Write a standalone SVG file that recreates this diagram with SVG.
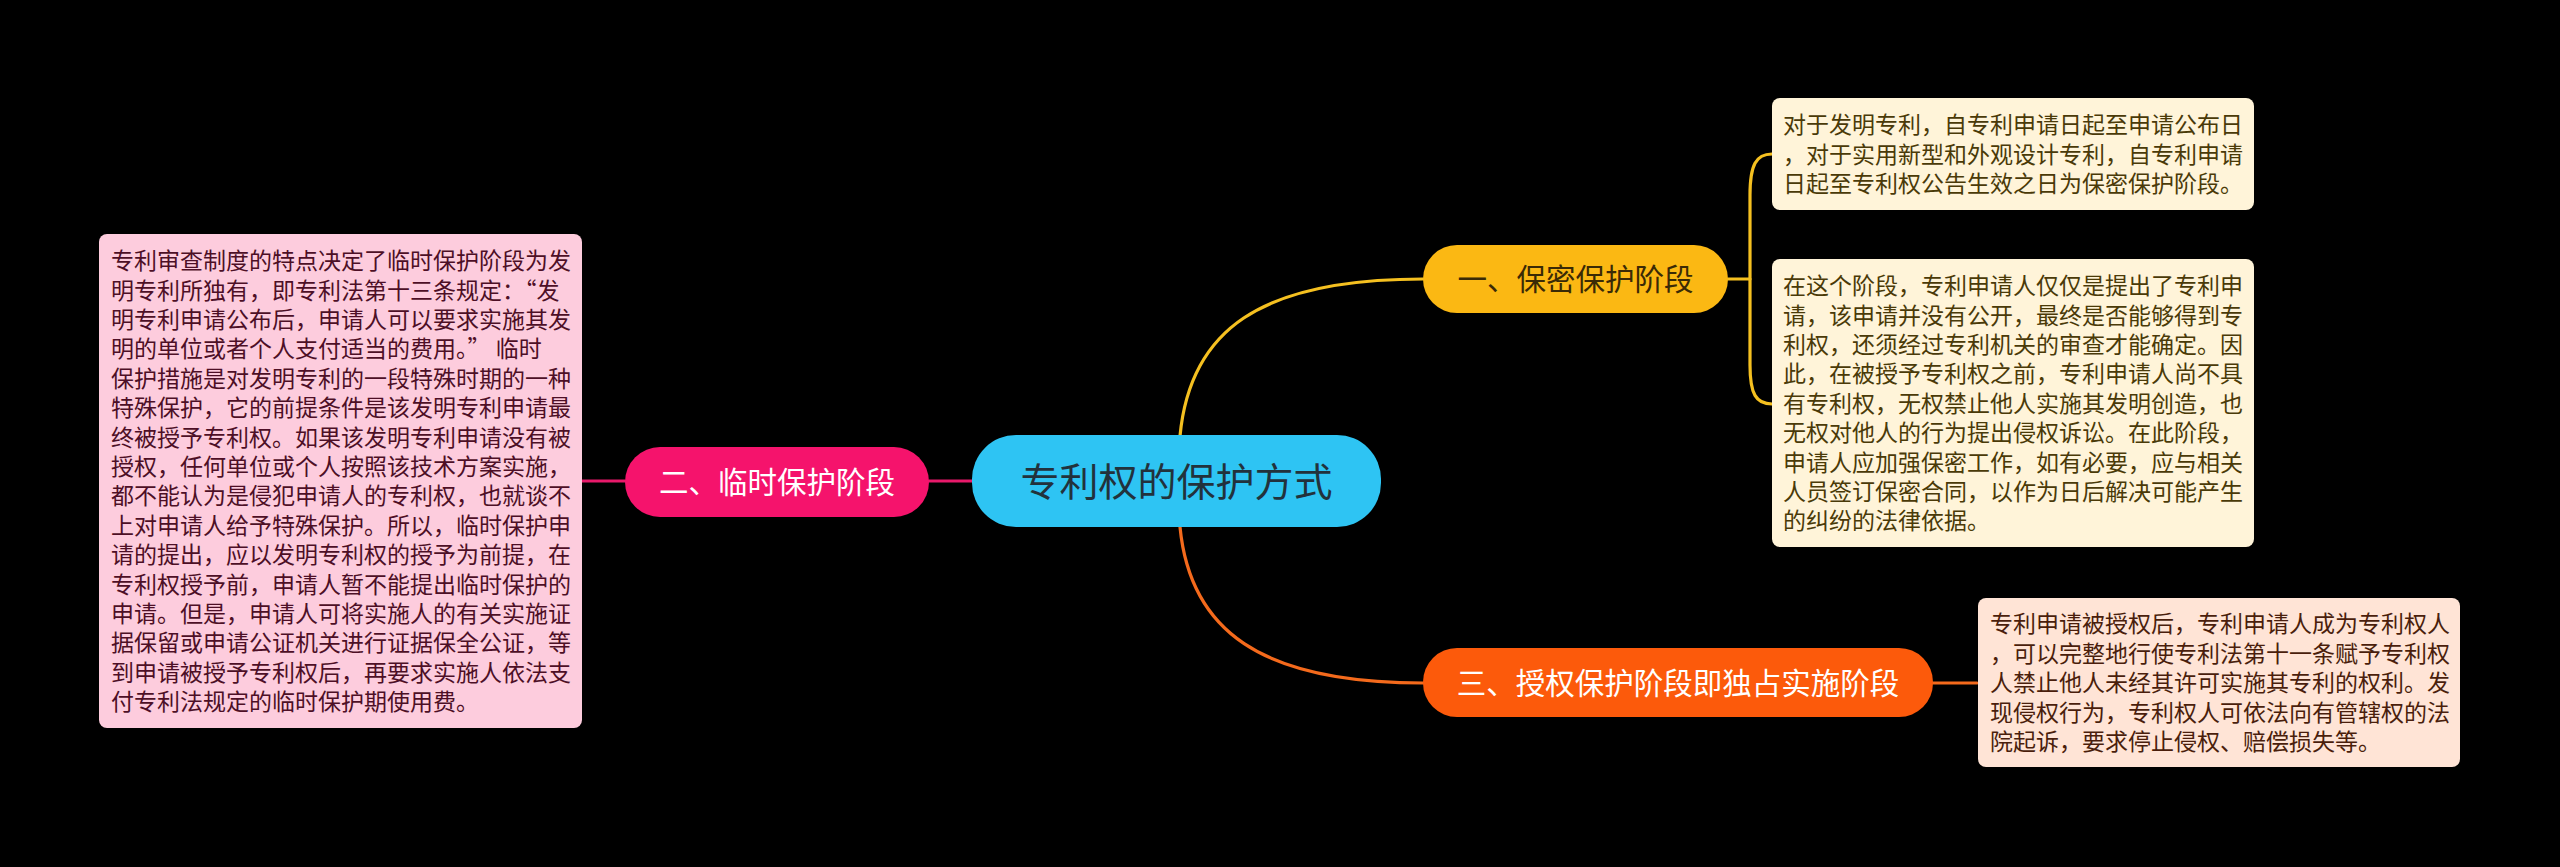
<svg xmlns="http://www.w3.org/2000/svg" width="2560" height="867" viewBox="0 0 2560 867">
<style>
text{font-family:"Noto Sans CJK SC","Noto Sans",sans-serif;}
.leaf{font-size:23px;}
.lp{fill:#4d0f26;}
.ly{fill:#4a3a08;}
.lo{fill:#4a1e0c;}
.conn{fill:none;stroke-width:3.2;stroke-linecap:round;}
</style>
<rect x="0" y="0" width="2560" height="867" fill="#000"/>
<g id="connectors">
<path class="conn" stroke="#e8196a" d="M972,481 L929,481"/>
<path class="conn" stroke="#e8196a" d="M625,481 L582,481"/>
<path class="conn" stroke="#f5c020" d="M1180,436 C1190,330 1260,279 1423,279"/>
<path class="conn" stroke="#f46a1c" d="M1180,527 C1190,630 1260,683 1423,683"/>
<path class="conn" stroke="#f5c020" d="M1728,279 L1750,279"/>
<path class="conn" stroke="#f5c020" d="M1772,154 C1756,154 1750,165 1750,195 L1750,365 C1750,394 1756,404 1772,404"/>
<path class="conn" stroke="#f46a1c" d="M1933,683 L1977,683"/>
</g>
<g id="center">
<rect x="972" y="435" width="409" height="92" rx="44" fill="#2ec4f3"/>
<text x="1176.5" y="496" font-size="39" text-anchor="middle" fill="#22323c">专利权的保护方式</text>
</g>
<g id="node2">
<rect x="625" y="447" width="304" height="70" rx="35" fill="#f5136c"/>
<text x="777" y="493" font-size="29.5" text-anchor="middle" fill="#fff">二、临时保护阶段</text>
</g>
<g id="node1">
<rect x="1423" y="245" width="305" height="68" rx="34" fill="#fbb813"/>
<text x="1575.5" y="290" font-size="29.5" text-anchor="middle" fill="#3a2a06">一、保密保护阶段</text>
</g>
<g id="node3">
<rect x="1423" y="648" width="510" height="69" rx="34" fill="#fc5a0b"/>
<text x="1678" y="694" font-size="29.5" text-anchor="middle" fill="#fff">三、授权保护阶段即独占实施阶段</text>
</g>
<g id="leaf-left">
<rect x="99" y="234" width="483" height="494" rx="8" fill="#fdccdd"/>
<text class="leaf lp" x="111">
<tspan x="111" y="269.2">专利审查制度的特点决定了临时保护阶段为发</tspan>
<tspan x="111" y="298.6">明专利所独有，即专利法第十三条规定：“发</tspan>
<tspan x="111" y="328">明专利申请公布后，申请人可以要求实施其发</tspan>
<tspan x="111" y="357.4">明的单位或者个人支付适当的费用。” 临时</tspan>
<tspan x="111" y="386.8">保护措施是对发明专利的一段特殊时期的一种</tspan>
<tspan x="111" y="416.2">特殊保护，它的前提条件是该发明专利申请最</tspan>
<tspan x="111" y="445.6">终被授予专利权。如果该发明专利申请没有被</tspan>
<tspan x="111" y="475">授权，任何单位或个人按照该技术方案实施，</tspan>
<tspan x="111" y="504.4">都不能认为是侵犯申请人的专利权，也就谈不</tspan>
<tspan x="111" y="533.8">上对申请人给予特殊保护。所以，临时保护申</tspan>
<tspan x="111" y="563.2">请的提出，应以发明专利权的授予为前提，在</tspan>
<tspan x="111" y="592.6">专利权授予前，申请人暂不能提出临时保护的</tspan>
<tspan x="111" y="622">申请。但是，申请人可将实施人的有关实施证</tspan>
<tspan x="111" y="651.4">据保留或申请公证机关进行证据保全公证，等</tspan>
<tspan x="111" y="680.8">到申请被授予专利权后，再要求实施人依法支</tspan>
<tspan x="111" y="710.2">付专利法规定的临时保护期使用费。</tspan>
</text>
</g>
<g id="leaf-1">
<rect x="1772" y="98" width="482" height="112" rx="8" fill="#fff4d9"/>
<text class="leaf ly">
<tspan x="1783" y="133.3">对于发明专利，自专利申请日起至申请公布日</tspan>
<tspan x="1783" y="162.7">，对于实用新型和外观设计专利，自专利申请</tspan>
<tspan x="1783" y="192.1">日起至专利权公告生效之日为保密保护阶段。</tspan>
</text>
</g>
<g id="leaf-2">
<rect x="1772" y="259" width="482" height="288" rx="8" fill="#fff4d9"/>
<text class="leaf ly">
<tspan x="1783" y="294.1">在这个阶段，专利申请人仅仅是提出了专利申</tspan>
<tspan x="1783" y="323.5">请，该申请并没有公开，最终是否能够得到专</tspan>
<tspan x="1783" y="352.9">利权，还须经过专利机关的审查才能确定。因</tspan>
<tspan x="1783" y="382.3">此，在被授予专利权之前，专利申请人尚不具</tspan>
<tspan x="1783" y="411.7">有专利权，无权禁止他人实施其发明创造，也</tspan>
<tspan x="1783" y="441.1">无权对他人的行为提出侵权诉讼。在此阶段，</tspan>
<tspan x="1783" y="470.5">申请人应加强保密工作，如有必要，应与相关</tspan>
<tspan x="1783" y="499.9">人员签订保密合同，以作为日后解决可能产生</tspan>
<tspan x="1783" y="529.3">的纠纷的法律依据。</tspan>
</text>
</g>
<g id="leaf-3">
<rect x="1978" y="598" width="482" height="169" rx="8" fill="#ffe4d6"/>
<text class="leaf lo">
<tspan x="1990" y="632.4">专利申请被授权后，专利申请人成为专利权人</tspan>
<tspan x="1990" y="661.8">，可以完整地行使专利法第十一条赋予专利权</tspan>
<tspan x="1990" y="691.2">人禁止他人未经其许可实施其专利的权利。发</tspan>
<tspan x="1990" y="720.6">现侵权行为，专利权人可依法向有管辖权的法</tspan>
<tspan x="1990" y="750">院起诉，要求停止侵权、赔偿损失等。</tspan>
</text>
</g>
</svg>
